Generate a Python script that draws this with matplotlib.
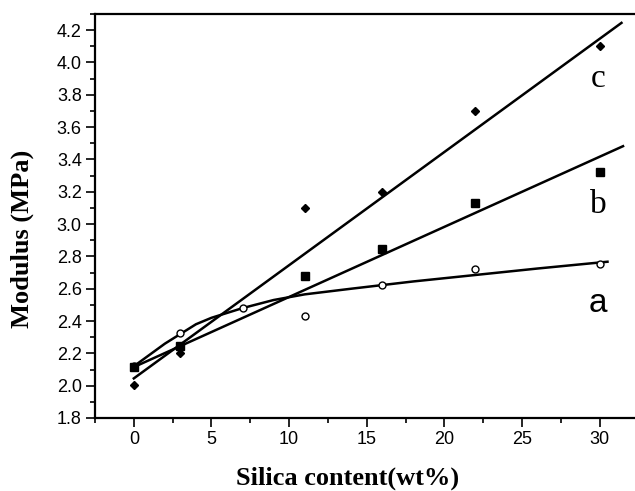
import numpy as np
import matplotlib
matplotlib.use("Agg")
import matplotlib.pyplot as plt
from matplotlib.ticker import MultipleLocator

# --- measured modulus vs silica loading ---
silica_a = [0, 3, 7, 11, 16, 22, 30]
modulus_a = [2.12, 2.325, 2.48, 2.43, 2.62, 2.72, 2.75]   # open circles
silica_bc = [0, 3, 11, 16, 22, 30]
modulus_b = [2.115, 2.245, 2.68, 2.845, 3.13, 3.32]  # filled squares
modulus_c = [2.005, 2.205, 3.10, 3.20, 3.70, 4.10]  # filled diamonds

# fitted curves
fit_a_x = [0, 1, 2, 3, 4, 5, 7, 9, 11, 14, 18, 22, 26, 30.5]
fit_a_y = [2.12, 2.19, 2.26, 2.32, 2.38, 2.42, 2.48, 2.53, 2.565, 2.60, 2.645, 2.685, 2.725, 2.767]
fit_b_x = [0, 31.5]
fit_b_y = [2.115, 3.482]
fit_c_x = [0, 31.4]
fit_c_y = [2.045, 4.245]

curve_labels = ["a", "b", "c"]
label_x = [29.9, 29.9, 29.9]
label_y = [2.51, 3.12, 3.90]

fig = plt.figure(figsize=(6.35, 4.91), dpi=100)
ax = fig.add_axes([0.1496, 0.1487, 0.856, 0.8228])

lw = 1.8
ax.plot(fit_a_x, fit_a_y, color="black", lw=lw)
ax.plot(fit_b_x, fit_b_y, color="black", lw=lw)
ax.plot(fit_c_x, fit_c_y, color="black", lw=lw)

ax.plot(silica_a, modulus_a, "o", ms=5, mfc="white", mec="black", mew=1.0)
ax.plot(silica_bc, modulus_b, "s", ms=5.5, color="black")
ax.plot(silica_bc, modulus_c, "D", ms=4.5, color="black")

serif_fonts = ["Liberation Serif", "DejaVu Serif"]
sans_fonts = ["Liberation Sans", "DejaVu Sans"]
for lab, lx, ly in zip(curve_labels, label_x, label_y):
    fam = sans_fonts if lab == "a" else serif_fonts
    ax.text(lx, ly, lab, fontsize=24, family=fam, ha="center", va="center")

ax.set_xlim(-2.5, 32.5)
ax.set_ylim(1.8, 4.3)
ax.set_xticks(range(0, 31, 5))
ax.set_yticks(np.round(np.arange(1.8, 4.21, 0.2), 1))
ax.set_yticklabels([f"{v:.1f}" for v in np.arange(1.8, 4.21, 0.2)])
ax.xaxis.set_minor_locator(MultipleLocator(2.5))
ax.yaxis.set_minor_locator(MultipleLocator(0.1))

for side in ["top", "left", "bottom"]:
    ax.spines[side].set_linewidth(1.6)
ax.spines["right"].set_visible(False)

ax.tick_params(which="major", direction="out", length=6.5, width=1.2,
               labelsize=13, pad=3)
ax.tick_params(which="minor", direction="out", length=3.5, width=1.2)
for t in ax.get_xticklabels() + ax.get_yticklabels():
    t.set_family(sans_fonts)

xl = ax.set_xlabel("Silica content(wt%)", family=serif_fonts, fontweight="bold",
                   fontsize=19)
yl = ax.set_ylabel("Modulus (MPa)", family=serif_fonts, fontweight="bold",
                   fontsize=19)
xl.set_va("center")
yl.set_va("center")
ax.xaxis.set_label_coords(0.465, -0.1485)
ax.yaxis.set_label_coords(-0.134, 0.443)

fig.savefig("out.png", dpi=100)
